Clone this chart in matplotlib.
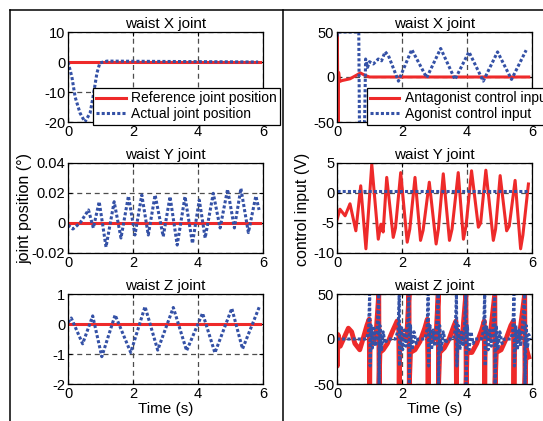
import matplotlib.pyplot as plt
from matplotlib.lines import Line2D

plt.rcParams['font.family'] = ['Liberation Sans', 'DejaVu Sans']
plt.rcParams['axes.unicode_minus'] = False

RED = '#ee2a2a'
BLUE = '#3451a6'

# waist X joint position (deg)
posx_ref_t = [0, 5.9]
posx_ref_v = [0, 0]
posx_act_t = [0, 0.12, 0.22, 0.37, 0.52, 0.68, 0.77, 0.89, 0.98, 1.2, 5.85]
posx_act_v = [0, -5, -11.7, -17, -20, -17, -11.7, -3.7, -0.3, 0.3, 0]

# waist Y joint position (deg)
posy_ref_t = [0, 5.9]
posy_ref_v = [0, 0]
posy_act_t = [0, 0.15, 0.37, 0.63, 0.78, 0.96, 1.17, 1.42, 1.63, 1.86, 2.06, 2.27, 2.47,
              2.68, 2.93, 3.14, 3.36, 3.6, 3.83, 4.04, 4.22, 4.47, 4.68, 4.91, 5.12,
              5.32, 5.55, 5.78, 5.88]
posy_act_v = [-0.0013, -0.004, 0.0, 0.0087, -0.0033, 0.0142, -0.016, 0.0142, -0.010,
              0.018, -0.008, 0.0187, -0.008, 0.0187, -0.009, 0.0176, -0.0147, 0.0176,
              -0.0136, 0.0153, -0.010, 0.0198, -0.0033, 0.0224, -0.0033, 0.023, -0.0064,
              0.018, 0.0087]

# waist Z joint position (deg)
posz_ref_t = [0, 5.9]
posz_ref_v = [0, 0]
posz_act_t = [0, 0.1, 0.45, 0.76, 1.04, 1.45, 1.93, 2.37, 2.76, 3.24, 3.65, 4.14, 4.52,
              5.04, 5.37, 5.89]
posz_act_v = [0.05, 0.2, -0.66, 0.27, -1.09, 0.3, -0.95, 0.58, -0.87, 0.55, -0.89, 0.36,
              -0.96, 0.52, -0.83, 0.58]

# waist X control input (V)
cx_ant_t = [0, 0.01, 0.03, 0.05, 0.08, 0.15, 0.4, 0.6, 0.72, 0.85, 1.0, 5.9]
cx_ant_v = [0, 50, -50, 5, -5, -4, -2, 2, 4.5, 2, 0, 0]
cx_ago_t = [0, 0.02, 0.67, 0.69, 0.85, 0.88, 0.94, 1.0, 1.12, 1.27, 1.37, 1.48, 1.58,
            1.89, 2.3, 2.76, 3.19, 3.63, 4.06, 4.5, 4.94, 5.37, 5.82]
cx_ago_v = [45, 50, 50, -50, -50, 20, 10.7, 17, 14.5, 20, 18, 28, 24, -4.6, 30.5, -0.8,
            31.7, -2.7, 27.9, -4.6, 27.9, -2.7, 29.8]

# waist Y control input (V)
cy_ant_t = [0, 0.09, 0.25, 0.4, 0.58, 0.73, 0.89, 1.07, 1.27, 1.35, 1.42, 1.53, 1.73,
            1.8, 1.96, 2.16, 2.24, 2.4, 2.57, 2.65, 2.84, 3.05, 3.12, 3.27, 3.46, 3.54,
            3.73, 3.89, 3.97, 4.14, 4.35, 4.42, 4.58, 4.81, 4.88, 5.02, 5.22, 5.3,
            5.48, 5.65, 5.72, 5.89]
cy_ant_v = [-4.5, -2.7, -3.8, -1.8, -6.3, 1.2, -9.3, 4.8, -7.7, -5.2, -6.5, 2.6, -7.4,
            -5.8, 3.4, -8.2, -6.0, 2.6, -7.9, -6.2, 1.8, -8.5, -6.0, 3.2, -7.9, -6.0,
            3.4, -7.7, -5.5, 3.7, -5.7, -5.0, 3.8, -7.9, -6.0, 2.9, -6.3, -5.5, 2.1,
            -9.3, -7.0, 1.5]
cy_ago_t = [0, 5.9]
cy_ago_v = [0.35, 0.35]

# waist Z control input (V)
cz_ant_t = [0, 0.01, 0.03, 0.1, 0.2, 0.35, 0.45, 0.55, 0.7, 0.8, 0.92, 0.99, 1.005,
            1.025, 1.1, 1.2, 1.285, 1.295, 1.32, 1.42, 1.55, 1.7, 1.85, 1.9, 1.915,
            1.935, 2.05, 2.15, 2.215, 2.225, 2.26, 2.4, 2.55, 2.7, 2.78, 2.805, 2.825,
            2.95, 3.05, 3.115, 3.125, 3.16, 3.3, 3.45, 3.6, 3.66, 3.675, 3.695, 3.85,
            3.965, 3.975, 4.0, 4.15, 4.3, 4.45, 4.53, 4.545, 4.565, 4.7, 4.855, 4.865,
            4.9, 5.05, 5.2, 5.35, 5.43, 5.445, 5.465, 5.6, 5.775, 5.785, 5.82, 5.9]
cz_ant_v = [-5, -30, 5, -8, 0, 12, 8, -5, -12, 0, 15, 22, -50, 10, -5, 5, 50, -50, -15,
            -12, -5, 8, 20, 15, -50, 10, 0, 5, 50, -50, -15, -12, -3, 12, 22, -50, 10,
            -2, 5, 50, -50, -15, -10, 0, 15, 20, -50, 10, 0, 50, -50, -15, -15, -5, 10,
            20, -50, 10, 0, 50, -50, -15, -12, 0, 15, 20, -50, 10, 0, 50, -50, -10, -20]
cz_ago_t = [0, 0.9, 0.97, 1.005, 1.02, 1.05, 1.09, 1.13, 1.18, 1.23, 1.285, 1.295, 1.32,
            1.37, 1.42, 1.48, 1.55, 1.8,
            1.88, 1.915, 1.93, 1.97, 2.02, 2.07, 2.12, 2.17, 2.215, 2.225, 2.26, 2.31,
            2.37, 2.44, 2.5, 2.7,
            2.77, 2.805, 2.82, 2.86, 2.91, 2.96, 3.01, 3.06, 3.115, 3.125, 3.16, 3.21,
            3.27, 3.34, 3.4, 3.58,
            3.64, 3.675, 3.69, 3.73, 3.78, 3.83, 3.88, 3.92, 3.965, 3.975, 4.01, 4.06,
            4.12, 4.19, 4.25, 4.45,
            4.51, 4.545, 4.56, 4.6, 4.65, 4.7, 4.75, 4.8, 4.855, 4.865, 4.9, 4.95,
            5.01, 5.08, 5.15, 5.35,
            5.41, 5.445, 5.46, 5.5, 5.55, 5.6, 5.65, 5.7, 5.775, 5.785, 5.82, 5.86,
            5.9, 5.95]
cz_ago_v = [0, 0, 8, 50, -30, 15, -10, 12, -8, 10, 50, -50, 15, -12, 8, -5, 0, 0,
            10, 50, -30, 15, -12, 10, -8, 12, 50, -50, 15, -12, 8, -5, 0, 0,
            10, 50, -30, 15, -12, 10, -8, 12, 50, -50, 15, -12, 8, -5, 0, 0,
            10, 50, -30, 15, -12, 10, -8, 12, 50, -50, 15, -12, 8, -5, 0, 0,
            10, 50, -30, 15, -12, 10, -8, 12, 50, -50, 15, -12, 8, -5, 0, 0,
            10, 50, -30, 15, -12, 10, -8, 12, 50, -50, 15, -10, 5, 0]

titles = ['waist X joint', 'waist Y joint', 'waist Z joint']
left_lims = [(-20, 10), (-0.02, 0.04), (-2, 1)]
left_ticks = [[-20, -10, 0, 10], [-0.02, 0, 0.02, 0.04], [-2, -1, 0, 1]]
left_ticklabels = [['-20', '-10', '0', '10'], ['-0.02', '0', '0.02', '0.04'],
                   ['-2', '-1', '0', '1']]
right_lims = [(-50, 50), (-10, 5), (-50, 50)]
right_ticks = [[-50, 0, 50], [-10, -5, 0, 5], [-50, 0, 50]]
xticks = [0, 2, 4, 6]

W, H = 543, 421
fig = plt.figure(figsize=(W / 100, H / 100), dpi=100)

rows_px = [(32, 122), (163, 253), (294, 384)]
cols_px = [68, 337]
axw = 195


def make_ax(xpx, ypx):
    top, bot = ypx
    ax = fig.add_axes([xpx / W, 1 - bot / H, axw / W, (bot - top) / H])
    ax.set_xlim(0, 6)
    ax.set_xticks(xticks)
    ax.tick_params(direction='in', length=3, width=0.8, top=True, right=True,
                   labelsize=10.5, pad=2)
    ax.grid(True, color='0.3', linestyle=(0, (4, 3)), linewidth=0.9)
    for s in ax.spines.values():
        s.set_linewidth(0.9)
    return ax


def style_legend(ax, x0):
    leg = ax.legend(loc='upper left', bbox_to_anchor=(x0, 0.378), fontsize=10,
                    fancybox=False, edgecolor='black', framealpha=1, borderpad=0.25,
                    labelspacing=0.12, handlelength=2.1, handletextpad=0.4,
                    borderaxespad=0)
    leg.get_frame().set_linewidth(0.9)


dots = (0, (1, 0.7))
lw_r = 2.2
lw_b = 2.2

left_data = [
    (posx_ref_t, posx_ref_v, posx_act_t, posx_act_v),
    (posy_ref_t, posy_ref_v, posy_act_t, posy_act_v),
    (posz_ref_t, posz_ref_v, posz_act_t, posz_act_v),
]
right_data = [
    (cx_ant_t, cx_ant_v, cx_ago_t, cx_ago_v),
    (cy_ant_t, cy_ant_v, cy_ago_t, cy_ago_v),
    (cz_ant_t, cz_ant_v, cz_ago_t, cz_ago_v),
]

for i in range(3):
    # left column: joint positions
    ax = make_ax(cols_px[0], rows_px[i])
    rt, rv, at, av = left_data[i]
    ax.plot(rt, rv, color=RED, lw=lw_r, label='Reference joint position')
    ax.plot(at, av, color=BLUE, lw=lw_b, linestyle=dots, label='Actual joint position')
    ax.set_ylim(*left_lims[i])
    ax.set_yticks(left_ticks[i])
    ax.set_yticklabels(left_ticklabels[i])
    ax.set_title(titles[i], fontsize=11, pad=3)
    if i == 0:
        style_legend(ax, 0.128)
    if i == 2:
        ax.set_xlabel('Time (s)', fontsize=11, labelpad=1)

    # right column: control inputs
    ax = make_ax(cols_px[1], rows_px[i])
    rt, rv, at, av = right_data[i]
    red_w = 3.5 if i == 2 else lw_r
    ax.plot(rt, rv, color=RED, lw=red_w, label='Antagonist control input')
    ax.plot(at, av, color=BLUE, lw=lw_b, linestyle=dots, label='Agonist control input')
    ax.set_ylim(*right_lims[i])
    ax.set_yticks(right_ticks[i])
    ax.set_title(titles[i], fontsize=11, pad=3)
    if i == 0:
        style_legend(ax, 0.152)
    if i == 2:
        ax.set_xlabel('Time (s)', fontsize=11, labelpad=1)

fig.text(25 / W, 1 - 208 / H, 'joint position (°)', rotation=90, ha='center',
         va='center', fontsize=11.5)
fig.text(302 / W, 1 - 209 / H, 'control input (V)', rotation=90, ha='center',
         va='center', fontsize=11.5)

# frame lines around the figure halves
ytop = 1 - 10 / H
for xs, ys in [([10 / W, 10 / W], [0, ytop]), ([10 / W, 1], [ytop, ytop]),
               ([283 / W, 283 / W], [0, ytop])]:
    fig.add_artist(Line2D(xs, ys, transform=fig.transFigure, color='black', lw=1.1))

fig.savefig('out.png', dpi=100)
